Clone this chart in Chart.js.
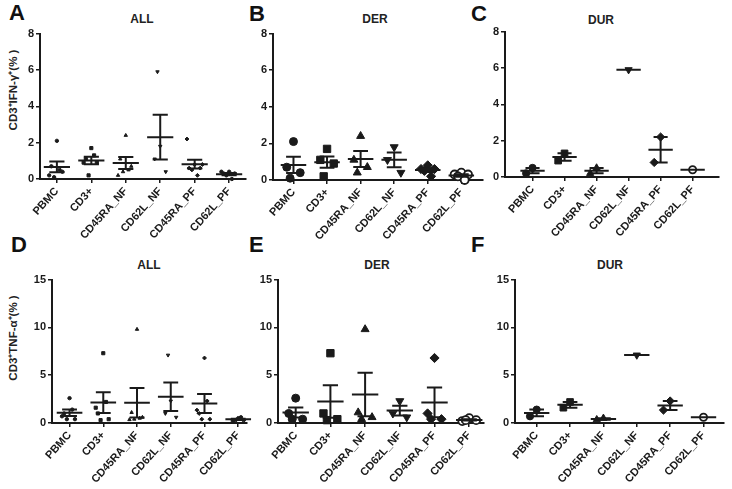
<!DOCTYPE html>
<html>
<head>
<meta charset="utf-8">
<script src="https://cdn.jsdelivr.net/npm/chart.js@4"></script>
<style>
  body { margin: 0; background: #fff; width: 732px; height: 489px; position: relative; overflow: hidden; font-family: 'Liberation Sans', Arial, sans-serif; }
  .panel { position: absolute; }
  .letter { position: absolute; font-weight: bold; font-size: 22px; line-height: 1; color: #111; }
  .title { position: absolute; font-weight: bold; font-size: 12px; color: #222; transform: translate(-50%, -50%); }
  .ylab { position: absolute; font-weight: bold; font-size: 11.5px; color: #222; white-space: nowrap; transform: translate(-50%, -50%) rotate(-90deg); }
</style>
</head>
<body>
<div class="letter" style="left:9px;top:2px">A</div>
<div class="letter" style="left:249px;top:3px">B</div>
<div class="letter" style="left:471px;top:3px">C</div>
<div class="letter" style="left:11px;top:234px">D</div>
<div class="letter" style="left:249px;top:234px">E</div>
<div class="letter" style="left:471px;top:234px">F</div>

<div class="title" style="left:142px;top:19px">ALL</div>
<div class="title" style="left:375px;top:19px">DER</div>
<div class="title" style="left:601px;top:20px">DUR</div>
<div class="title" style="left:149px;top:265px">ALL</div>
<div class="title" style="left:377px;top:265px">DER</div>
<div class="title" style="left:610px;top:265px">DUR</div>

<div class="ylab" id="ylab-ifn" style="left:12px;top:90px"></div>
<div class="ylab" id="ylab-tnf" style="left:12px;top:338px"></div>

<script>
'use strict';

// ******* DATA *******
let categories = ['PBMC', 'CD3+', 'CD45RA_NF', 'CD62L_NF', 'CD45RA_PF', 'CD62L_PF'];
let ifnTicks = [0, 2, 4, 6, 8];
let tnfTicks = [0, 5, 10, 15];
let ifnLabel = 'CD3\u207AIFN-\u03B3\u207A(% )';
let tnfLabel = 'CD3\u207ATNF-\u03B1\u207A(% )';

// one list of values per category
let ifnDer = [[2.1, 0.7, 0.4, 0.1], [1.7, 1.1, 0.9, 0.2], [2.4, 1.1, 0.7, 0.4], [1.8, 1.1, 0.4], [0.8, 0.6, 0.6, 0.5, 0.2], [0.4, 0.3, 0.3, 0.2, 0.0]];
let ifnDur = [[0.5, 0.2], [1.3, 0.9], [0.5, 0.2], [5.9], [2.2, 0.8], [0.4]];
let tnfDer = [[2.6, 1.0, 0.4, 0.4], [7.3, 1.0, 0.4, 0.3], [9.8, 1.1, 0.6, 0.4], [2.3, 1.0, 0.6], [6.8, 1.0, 0.4, 0.4], [0.5, 0.2, 0.3, 0.3]];
let tnfDur = [[1.4, 0.7], [2.2, 1.6], [0.5, 0.35], [7.1], [2.3, 1.35], [0.6]];

// ALL = DER subjects plus DUR subjects
function joinGroups(a, b) {
  return a.map((g, i) => g.concat(b[i]));
}
let ifnAll = joinGroups(ifnDer, ifnDur);
let tnfAll = joinGroups(tnfDer, tnfDur);

// ******* STYLE *******
const INK = '#1a1a1a';
const FONT = "'Liberation Sans', Arial, sans-serif";
const MEAN_HALF = 0.38;
const CAP_HALF = 0.22;
let jitter = [0, -0.2, 0.2, -0.1, 0.1, -0.28, 0.28];
let shapes = [
  { style: 'circle', rotation: 0, size: 1, open: false },
  { style: 'rect', rotation: 0, size: 1.3, open: false },
  { style: 'triangle', rotation: 0, size: 1.15, open: false },
  { style: 'triangle', rotation: 180, size: 1.15, open: false },
  { style: 'rectRot', rotation: 0, size: 1.15, open: false },
  { style: 'circle', rotation: 0, size: 1, open: true }
];

// panel boxes (pixels) and x-range in category units
let panels = [
  { groups: ifnAll, ticks: ifnTicks, ymax: 8, left: 0, top: 25, width: 251, height: 220, yw: 40, xmin: -0.49, xmax: 5.49, r: 1.7 },
  { groups: ifnDer, ticks: ifnTicks, ymax: 8, left: 248, top: 25, width: 241, height: 221, yw: 25, xmin: -0.61, xmax: 5.64, r: 4 },
  { groups: ifnDur, ticks: ifnTicks, ymax: 8, left: 480, top: 23, width: 245, height: 220, yw: 25, xmin: -0.86, xmax: 5.83, r: 3.6 },
  { groups: tnfAll, ticks: tnfTicks, ymax: 15, left: 0, top: 271, width: 252, height: 218, yw: 52, xmin: -0.52, xmax: 5.26, r: 1.7 },
  { groups: tnfDer, ticks: tnfTicks, ymax: 15, left: 253, top: 271, width: 237, height: 218, yw: 25, xmin: -0.51, xmax: 5.42, r: 4 },
  { groups: tnfDur, ticks: tnfTicks, ymax: 15, left: 490, top: 271, width: 240, height: 218, yw: 25, xmin: -0.65, xmax: 5.62, r: 3.6 }
];
const X_AXIS_H = 66;

// ****** HELPERS ******
function meanOf(arr) {
  let sum = 0;
  for (let i = 0; i < arr.length; i++) sum += arr[i];
  return sum / arr.length;
}

function semOf(arr) {
  if (arr.length < 2) return 0;
  let m = meanOf(arr);
  let ss = 0;
  for (let i = 0; i < arr.length; i++) ss += (arr[i] - m) * (arr[i] - m);
  return Math.sqrt(ss / (arr.length - 1)) / Math.sqrt(arr.length);
}

function errorBarPoints(groups) {
  let pts = [];
  for (let i = 0; i < groups.length; i++) {
    let m = meanOf(groups[i]);
    let s = semOf(groups[i]);
    pts.push({ x: i - MEAN_HALF, y: m }, { x: i + MEAN_HALF, y: m }, { x: i, y: null });
    if (groups[i].length > 1) {
      pts.push({ x: i, y: m - s }, { x: i, y: m + s }, { x: i, y: null });
      pts.push({ x: i - CAP_HALF, y: m + s }, { x: i + CAP_HALF, y: m + s }, { x: i, y: null });
      pts.push({ x: i - CAP_HALF, y: m - s }, { x: i + CAP_HALF, y: m - s }, { x: i, y: null });
    }
  }
  return pts;
}

function buildDatasets(p) {
  let sets = [{
    data: errorBarPoints(p.groups),
    showLine: true,
    spanGaps: false,
    borderColor: INK,
    borderWidth: 2,
    pointRadius: 0,
    clip: false
  }];
  for (let i = 0; i < p.groups.length; i++) {
    let sh = shapes[i];
    sets.push({
      data: p.groups[i].map((v, j) => ({ x: i + jitter[j % jitter.length] * (p.r > 2 ? 1 : 0.8), y: v })),
      showLine: false,
      pointStyle: sh.style,
      rotation: sh.rotation,
      pointRadius: p.r * sh.size,
      backgroundColor: sh.open && p.r > 2 ? '#fff' : INK,
      borderColor: INK,
      borderWidth: sh.open && p.r > 2 ? 1.8 : 1,
      clip: false
    });
  }
  return sets;
}

function renderPanel(p) {
  let box = document.createElement('div');
  box.className = 'panel';
  box.style.left = p.left + 'px';
  box.style.top = p.top + 'px';
  let canvas = document.createElement('canvas');
  canvas.width = p.width;
  canvas.height = p.height;
  box.appendChild(canvas);
  document.body.appendChild(box);

  let tickFont = { family: FONT, size: 11, weight: 'bold' };

  new Chart(canvas.getContext('2d'), {
    type: 'scatter',
    data: { datasets: buildDatasets(p) },
    options: {
      responsive: false,
      animation: false,
      devicePixelRatio: 1,
      layout: { padding: { top: 8, right: 2, left: 0, bottom: 0 } },
      plugins: { legend: { display: false }, tooltip: { enabled: false } },
      scales: {
        x: {
          type: 'linear',
          min: p.xmin,
          max: p.xmax,
          afterBuildTicks: (s) => { s.ticks = categories.map((c, i) => ({ value: i })); },
          afterFit: (s) => { s.height = X_AXIS_H; },
          ticks: {
            autoSkip: false,
            minRotation: 48,
            maxRotation: 48,
            padding: 2,
            color: INK,
            font: tickFont,
            callback: (v) => categories[v]
          },
          grid: { drawOnChartArea: false, drawTicks: true, tickLength: 4, color: INK, lineWidth: 1.5 },
          border: { color: INK, width: 2 }
        },
        y: {
          min: 0,
          max: p.ymax,
          afterBuildTicks: (s) => { s.ticks = p.ticks.map((t) => ({ value: t })); },
          afterFit: (s) => { s.width = p.yw; },
          ticks: { color: INK, font: tickFont, padding: 2 },
          grid: { drawOnChartArea: false, drawTicks: true, tickLength: 4, color: INK, lineWidth: 1.5 },
          border: { color: INK, width: 2 }
        }
      }
    }
  });
}

// ****** EXECUTABLE CODE ********
document.getElementById('ylab-ifn').textContent = ifnLabel;
document.getElementById('ylab-tnf').textContent = tnfLabel;

for (let i = 0; i < panels.length; i++) {
  renderPanel(panels[i]);
}
</script>
</body>
</html>
